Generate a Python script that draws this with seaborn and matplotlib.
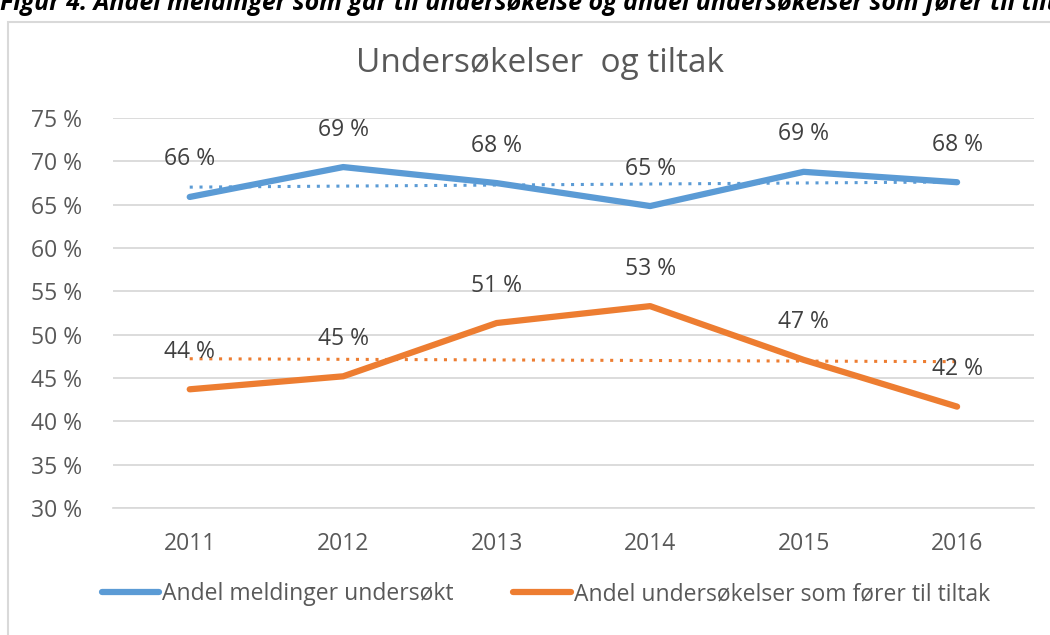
#!/usr/bin/env python3
# coding: utf-8

import numpy as np
import pandas as pd
import seaborn as sns
import matplotlib.pyplot as plt
from matplotlib.patches import Rectangle

# ------------------------------------------------
# Data
# ------------------------------------------------
years = ["2011", "2012", "2013", "2014", "2015", "2016"]
undersokt = [65.9, 69.35, 67.5, 64.85, 68.8, 67.6]
tiltak = [43.7, 45.2, 51.35, 53.3, 47.1, 41.7]
labels_undersokt = ["66 %", "69 %", "68 %", "65 %", "69 %", "68 %"]
labels_tiltak = ["44 %", "45 %", "51 %", "53 %", "47 %", "42 %"]
series_names = ["Andel meldinger undersøkt",
                "Andel undersøkelser som fører til tiltak"]

blue = "#5B9BD5"
orange = "#ED7D31"
grey_text = "#595959"

data = pd.DataFrame({
    "year": years * 2,
    "value": undersokt + tiltak,
    "serie": [series_names[0]] * 6 + [series_names[1]] * 6,
})

# ------------------------------------------------
# Plot
# ------------------------------------------------
sns.set_theme(style="white")
plt.rcParams['font.family'] = ['Open Sans', 'DejaVu Sans']

fig = plt.figure(figsize=(10.5, 6.35), dpi=100)
ax = fig.add_axes([0.1076, 0.2, 0.877, 0.614])

sns.lineplot(data=data, x="year", y="value", hue="serie",
             palette=[blue, orange], linewidth=4.5, ax=ax,
             legend=False, sort=False)

# linear trend lines (dotted)
idx = np.arange(len(years))
for vals, col in [(undersokt, blue), (tiltak, orange)]:
    k, m = np.polyfit(idx, vals, 1)
    ax.plot(idx, k * idx + m, linestyle=(0, (1, 2.2)), color=col,
            linewidth=2.2, zorder=1)

# data labels
for vals, labs in [(undersokt, labels_undersokt), (tiltak, labels_tiltak)]:
    for i, (v, lab) in enumerate(zip(vals, labs)):
        ax.annotate(lab, (i, v), xytext=(0, 27), textcoords="offset points",
                    ha="center", va="center", fontsize=16.5, color="#404040")

ax.set_xlim(-0.5, 5.5)
ax.set_ylim(30, 75)
ax.set_yticks(np.arange(30, 76, 5))
ax.set_yticklabels([f"{t} %" for t in range(30, 76, 5)])
ax.yaxis.grid(True, color="#D9D9D9", linewidth=1.3)
ax.set_axisbelow(True)
for s in ax.spines.values():
    s.set_visible(False)
ax.spines["bottom"].set_visible(True)
ax.spines["bottom"].set_color("#D9D9D9")
ax.tick_params(axis="both", length=0, labelsize=16.5, colors=grey_text)
ax.tick_params(axis="x", pad=17)
ax.tick_params(axis="y", pad=22)
ax.set_xlabel("")
ax.set_ylabel("")

fig.text(0.514, 0.9, "Undersøkelser  og tiltak", ha="center", va="center",
         fontsize=24, color=grey_text)

# legend
handles = [plt.Line2D([], [], color=blue, linewidth=4.5),
           plt.Line2D([], [], color=orange, linewidth=4.5)]
fig.legend(handles, series_names, loc="center", bbox_to_anchor=(0.52, 0.064),
           ncol=2, frameon=False, fontsize=16.5, handlelength=2.5,
           handletextpad=0.15, columnspacing=2.6, labelcolor=grey_text)

# chart frame and clipped caption above it
fig.patches.append(Rectangle((8 / 1050, -0.05), 1.2, 1 - 22 / 635 + 0.05,
                             transform=fig.transFigure, fill=False,
                             edgecolor="#D9D9D9", linewidth=1.5))
fig.text(0.0, 1 - 2 / 635, "Figur 4: Andel meldinger som går til undersøkelse og "
         "andel undersøkelser som fører til tiltak", ha="left", va="center",
         fontsize=18, fontweight="bold", fontstyle="italic", color="black")

plt.savefig("out.png", dpi=100)
